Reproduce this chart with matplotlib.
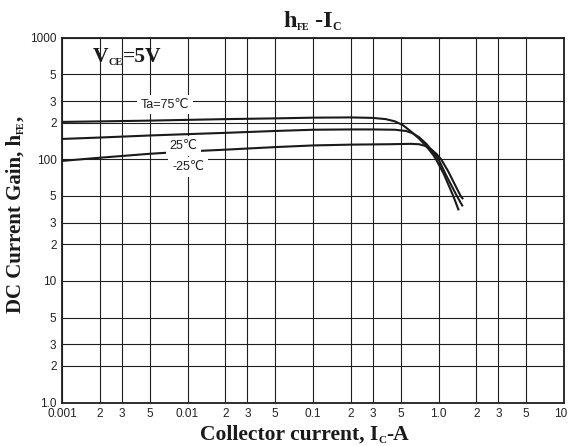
import matplotlib
matplotlib.use("Agg")
import matplotlib.pyplot as plt
from matplotlib.transforms import ScaledTranslation

# ---------------- data ----------------
ic_75 = [0.001, 0.002, 0.005, 0.01, 0.02, 0.05, 0.1, 0.2, 0.3, 0.38, 0.45, 0.52, 0.6, 0.7, 0.8, 0.9, 0.955, 1.1, 1.31, 1.45]
hfe_75 = [203, 205, 208, 211, 214, 217, 220, 221, 219, 214, 205, 191, 170, 148, 128, 110, 100, 76, 50, 38]

ic_25 = [0.001, 0.002, 0.005, 0.01, 0.02, 0.05, 0.1, 0.2, 0.3, 0.45, 0.55, 0.62, 0.7, 0.8, 0.9, 1.0, 1.15, 1.4, 1.56]
hfe_25 = [147, 151, 157, 161, 165, 171, 175, 176, 176, 175, 171, 164, 152, 134, 116, 100, 74, 50, 41]

ic_m25 = [0.001, 0.002, 0.005, 0.01, 0.02, 0.05, 0.1, 0.2, 0.4, 0.6, 0.7, 0.78, 0.87, 0.96, 1.05, 1.2, 1.35, 1.5, 1.57]
hfe_m25 = [97, 103, 111, 116, 120, 126, 130, 132, 133, 134, 133, 129, 121, 111, 100, 79, 62, 50, 47]

x_ticks = [0.001, 0.002, 0.003, 0.005, 0.01, 0.02, 0.03, 0.05, 0.1, 0.2, 0.3, 0.5, 1, 2, 3, 5, 10]
x_tick_labels = ['0.001', '2', '3', '5', '0.01', '2', '3', '5', '0.1', '2', '3', '5', '1.0', '2', '3', '5', '10']
y_ticks = [1, 2, 3, 5, 10, 20, 30, 50, 100, 200, 300, 500, 1000]
y_tick_labels = ['1.0', '2', '3', '5', '10', '2', '3', '5', '100', '2', '3', '5', '1000']

curve_labels = ['Ta=75\u2103', '25\u2103', '-25\u2103']
label_pos = [(0.00665, 281), (0.0093, 129), (0.0101, 86.7)]

# ---------------- figure ----------------
W, H = 569, 446
fig = plt.figure(figsize=(W / 100, H / 100), dpi=100)
fig.patch.set_facecolor('white')
ax = fig.add_axes([62 / W, 1 - 402.5 / H, (564 - 62) / W, (402.5 - 37.7) / H])

ax.set_xscale('log')
ax.set_yscale('log')
ax.set_xlim(0.001, 10)
ax.set_ylim(1, 1000)

ax.minorticks_off()
ax.set_xticks(x_ticks)
ax.set_xticklabels(x_tick_labels)
ax.set_yticks(y_ticks)
ax.set_yticklabels(y_tick_labels)
ax.tick_params(length=0, pad=4, labelsize=8.5, colors='#222222')
ax.tick_params(axis='x', pad=4)
for lab in ax.get_xticklabels() + ax.get_yticklabels():
    lab.set_fontfamily(['Liberation Sans', 'DejaVu Sans'])
# keep the last x label ("10") inside the canvas
last = ax.get_xticklabels()[-1]
last.set_transform(last.get_transform() + ScaledTranslation(-3 / 100, 0, fig.dpi_scale_trans))

ax.grid(True, which='major', color='#1e1e1e', linewidth=0.8)
ax.set_axisbelow(True)
for sp in ax.spines.values():
    sp.set_linewidth(1.3)
    sp.set_color('#1e1e1e')

line_kw = dict(color='#1a1a1a', linewidth=1.5, solid_capstyle='butt', zorder=3)
ax.plot(ic_75, hfe_75, **line_kw)
ax.plot(ic_25, hfe_25, **line_kw)
ax.plot(ic_m25, hfe_m25, **line_kw)

for txt, (lx, ly) in zip(curve_labels, label_pos):
    ax.text(lx, ly, txt, fontsize=9, ha='center', va='center',
            family=['Liberation Sans', 'DejaVu Sans'], color='#1e1e1e', zorder=4,
            bbox=dict(boxstyle='square,pad=0.3', facecolor='white', edgecolor='none'))

renderer = fig.canvas.get_renderer()
SERIF = ['Liberation Serif', 'DejaVu Serif']


def rich(x_px, y_px, pieces, rotation=0):
    for text, size, dy in pieces:
        if rotation == 0:
            t = fig.text(x_px / W, 1 - (y_px + dy) / H, text, fontsize=size,
                         family=SERIF, fontweight='bold', ha='left', va='baseline',
                         color='#1a1a1a')
            bb = t.get_window_extent(renderer)
            x_px += bb.width
        else:
            t = fig.text((x_px + dy) / W, 1 - y_px / H, text, fontsize=size,
                         family=SERIF, fontweight='bold', ha='left', va='baseline',
                         rotation=90, rotation_mode='anchor', color='#1a1a1a')
            bb = t.get_window_extent(renderer)
            y_px -= bb.height


# title
rich(283, 26.7, [('h', 17.5, 0), ('FE', 7, 3), (' -I', 17.5, 0), ('C', 8.5, 3)])
# V_CE annotation
rich(93, 61.7, [('V', 15.5, 0), ('CE', 7.5, 3), ('=5V', 15.5, 0)])
# x label
rich(200, 440, [('Collector current, I', 15.5, 0), ('C', 8, 3), ('-A', 15.5, 0)])
# y label
rich(20.7, 313, [('DC Current Gain, h', 15, 0), ('FE', 7, 3), (',', 15, 0)], rotation=90)

fig.savefig('out.png', dpi=100, facecolor='white')
